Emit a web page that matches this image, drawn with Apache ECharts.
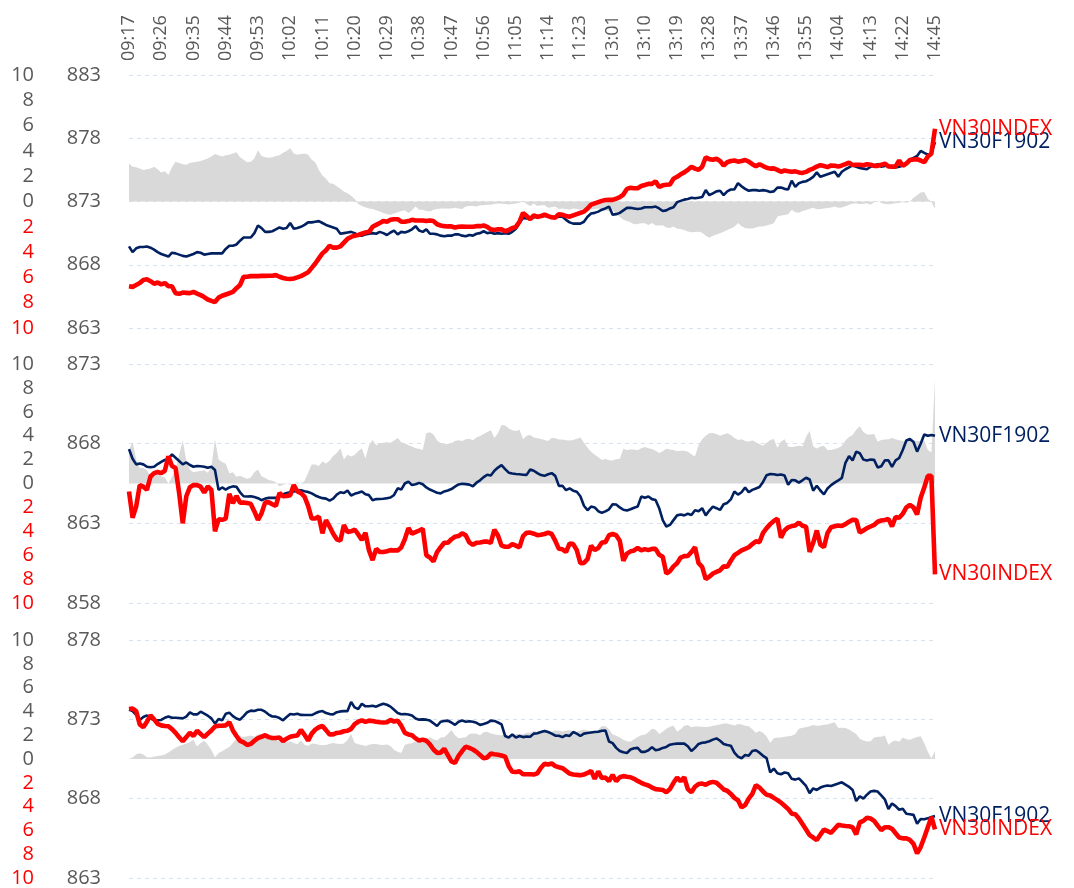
<!DOCTYPE html>
<html><head><meta charset="utf-8">
<script src="https://cdn.jsdelivr.net/npm/echarts@6/dist/echarts.min.js"></script>
<style>html,body{margin:0;padding:0;background:#fff}#c{width:1074px;height:888px}</style>
</head><body><div id="c"></div>
<script>
// trading sessions (one point per minute), last point is the ATC print
const sessions = [['09:17','11:30'],['13:00','14:30'],['14:45','14:45']];
const futName = 'VN30F1902';
const idxName = 'VN30INDEX';

// ---- panel 1 ----
const f1 = [869.45,869.0,869.3,869.4,869.4,869.45,869.35,869.2,869.0,868.85,
868.75,868.65,868.95,868.9,868.8,868.7,868.65,868.75,868.85,869.0,
868.95,868.8,868.85,868.9,868.9,868.9,868.9,869.25,869.5,869.5,
869.6,869.9,870.15,870.15,870.15,870.5,871.1,870.9,870.6,870.6,
870.65,870.8,870.95,870.85,870.9,871.3,870.85,870.9,871.0,871.15,
871.35,871.35,871.4,871.45,871.3,871.15,871.05,870.95,870.85,870.45,
870.5,870.55,870.6,870.5,870.3,870.3,870.4,870.45,870.5,870.45,
870.6,870.5,870.35,870.55,870.7,870.4,870.6,870.55,870.65,870.8,
871.05,870.7,870.6,870.8,870.45,870.45,870.4,870.3,870.25,870.3,
870.3,870.4,870.4,870.3,870.25,870.35,870.3,870.45,870.5,870.65,
870.5,870.55,870.45,870.5,870.45,870.5,870.45,870.6,870.85,871.3,
871.7,871.65,871.7,871.75,871.8,871.8,871.85,871.85,871.7,871.75,
871.8,871.8,871.55,871.35,871.25,871.25,871.25,871.4,871.8,872.05,
872.1,872.2,872.35,872.45,872.6,871.95,872.0,872.1,872.3,872.5,
872.5,872.45,872.4,872.45,872.55,872.55,872.55,872.6,872.45,872.25,
872.3,872.45,872.55,872.95,873.05,873.15,873.2,873.3,873.25,873.3,
873.35,873.9,873.5,873.65,873.8,873.85,873.5,873.8,873.95,873.95,
874.45,874.2,874.0,873.85,873.9,873.9,873.85,873.9,873.85,873.75,
873.8,874.1,874.1,874.0,873.95,874.65,874.15,874.45,874.55,874.6,
874.75,874.95,875.3,874.95,875.05,875.15,875.25,875.35,874.95,875.35,
875.55,875.7,875.85,875.75,875.65,875.6,875.55,875.75,875.85,875.95,
875.75,875.8,875.85,875.7,875.7,875.75,875.85,876.0,876.3,876.45,
876.6,877.0,876.85,876.7,876.8,877.7];
const i1 = [866.3,866.25,866.4,866.55,866.8,866.85,866.7,866.5,866.6,866.45,
866.55,866.3,866.3,865.75,865.7,865.8,865.78,865.76,865.85,865.72,
865.6,865.45,865.25,865.15,865.05,865.4,865.55,865.65,865.75,865.85,
866.15,866.4,867.05,867.05,867.1,867.1,867.1,867.12,867.12,867.13,
867.13,867.18,867.05,866.95,866.9,866.87,866.92,867.0,867.1,867.25,
867.4,867.75,868.1,868.5,868.9,869.15,869.5,869.35,869.35,869.45,
869.75,870.05,870.2,870.3,870.35,870.45,870.55,870.6,871.0,871.15,
871.3,871.45,871.4,871.55,871.6,871.6,871.4,871.4,871.45,871.55,
871.5,871.5,871.5,871.45,871.5,871.45,871.2,871.1,871.05,871.03,
871.03,870.95,871.0,871.03,871.0,871.0,871.0,871.05,871.05,871.1,
871.0,870.8,870.75,870.8,870.8,870.65,870.75,870.9,871.0,871.4,
872.1,871.85,871.6,871.9,871.78,871.85,871.97,871.85,871.75,871.72,
872.0,871.95,871.85,871.8,871.9,872.0,872.1,872.2,872.45,872.75,
872.85,872.95,873.05,873.12,873.13,873.13,873.22,873.35,873.55,874.0,
874.08,874.05,874.05,874.22,874.3,874.39,874.39,874.6,874.15,874.28,
874.32,874.35,874.8,874.95,875.15,875.3,875.5,875.75,875.6,875.5,
875.75,876.5,876.35,876.3,876.38,876.2,875.85,876.1,876.2,876.24,
876.15,876.2,876.28,876.15,875.95,875.78,875.95,875.8,875.67,875.6,
875.62,875.5,875.35,875.45,875.4,875.35,875.38,875.3,875.26,875.34,
875.5,875.6,875.76,875.87,875.8,875.72,875.85,875.82,875.76,875.85,
875.95,876.08,875.88,875.9,875.9,875.87,875.95,875.9,875.82,875.82,
875.9,876.0,875.78,875.76,875.78,876.24,875.82,876.0,876.28,876.32,
876.34,876.24,876.1,876.55,876.8,878.75];
const b1 = [3.0,2.75,2.7,2.6,2.5,2.55,2.6,2.75,2.55,2.3,
2.4,2.1,2.7,3.15,3.05,2.95,2.9,3.05,3.1,3.15,
3.2,3.3,3.4,3.55,3.75,3.65,3.55,3.65,3.7,3.8,
3.9,3.5,3.3,3.1,3.15,3.4,4.05,3.6,3.5,3.45,
3.5,3.6,3.65,3.85,4.0,4.2,3.8,3.7,3.75,3.8,
3.7,3.3,3.1,2.5,2.05,1.8,1.45,1.4,1.2,1.0,
0.8,0.65,0.45,0.2,-0.2,-0.35,-0.45,-0.55,-0.6,-0.7,
-0.8,-0.9,-1.0,-1.05,-0.95,-0.85,-0.75,-0.7,-0.9,-0.7,
-0.4,-0.65,-0.65,-0.75,-0.8,-0.65,-0.6,-0.55,-0.55,-0.55,
-0.55,-0.5,-0.55,-0.6,-0.4,-0.35,-0.35,-0.4,-0.3,-0.3,
-0.25,-0.25,-0.2,-0.15,-0.18,-0.2,-0.24,-0.2,-0.15,-0.12,
0.03,-0.2,-0.35,-0.15,-0.35,-0.3,-0.3,-0.5,-0.45,-0.4,
-0.6,-0.55,-0.6,-0.65,-0.55,-0.6,-0.65,-0.55,-0.6,-0.65,
-0.6,-0.55,-0.62,-0.7,-0.8,-0.68,-1.0,-1.2,-1.45,-1.55,
-1.65,-1.8,-1.78,-1.72,-1.72,-1.85,-1.7,-1.9,-1.9,-1.88,
-2.05,-2.1,-1.97,-2.15,-2.18,-2.25,-2.38,-2.43,-2.42,-2.4,
-2.48,-2.7,-2.87,-2.7,-2.6,-2.5,-2.4,-2.25,-2.13,-2.0,
-1.7,-1.95,-2.1,-2.13,-2.13,-2.05,-1.97,-1.97,-1.9,-1.82,
-1.72,-1.2,-1.1,-1.06,-1.0,-0.66,-0.85,-0.88,-0.76,-0.68,
-0.58,-0.5,-0.62,-0.6,-0.55,-0.52,-0.47,-0.4,-0.5,-0.48,
-0.38,-0.26,-0.18,-0.14,-0.22,-0.18,-0.14,-0.26,-0.05,0.05,
-0.12,-0.2,-0.22,-0.18,-0.14,-0.1,-0.03,-0.1,0.0,0.3,
0.5,0.72,0.75,0.2,-0.02,-0.6];

// ---- panel 2 ----
const f2 = [867.66,867.05,866.7,866.75,866.7,866.55,866.52,866.55,866.72,866.85,
866.98,867.05,867.33,867.12,866.91,866.7,866.82,866.66,866.55,866.6,
866.58,866.55,866.49,866.55,866.35,865.1,865.25,865.12,865.25,865.32,
865.3,864.95,864.7,864.68,864.7,864.65,864.58,864.45,864.55,864.6,
864.6,864.6,864.72,864.83,864.9,864.95,865.0,865.05,865.08,865.02,
864.97,864.88,864.75,864.65,864.58,864.55,864.43,864.55,864.8,864.95,
864.9,865.06,864.75,864.85,864.92,865.0,864.82,864.77,864.45,864.52,
864.53,864.54,864.58,864.62,864.78,865.2,865.12,865.5,865.62,865.4,
865.45,865.54,865.45,865.25,865.12,865.02,864.92,864.88,865.0,865.06,
865.15,865.3,865.44,865.48,865.46,865.43,865.33,865.55,865.7,865.9,
866.05,866.0,866.3,866.5,866.65,866.4,866.18,866.13,866.1,866.08,
866.05,866.04,866.38,866.3,866.15,866.03,865.98,866.08,866.15,865.98,
865.35,865.36,865.08,865.19,865.05,864.98,864.7,864.1,863.82,864.05,
864.0,863.76,863.66,863.75,863.88,864.2,864.18,864.0,863.85,863.8,
863.88,863.98,864.05,864.68,864.6,864.68,864.52,864.47,863.95,863.2,
862.8,862.9,863.2,863.5,863.55,863.5,863.6,863.52,863.82,863.76,
863.95,863.5,863.8,864.05,863.95,863.84,864.2,864.28,864.5,865.0,
864.8,864.95,865.25,864.95,865.1,865.19,865.28,865.6,866.02,866.1,
866.08,866.03,866.07,866.0,865.42,865.72,865.7,865.55,865.7,865.86,
865.75,865.05,865.36,865.06,864.82,865.19,865.4,865.55,865.69,865.85,
866.8,867.22,866.95,867.5,867.4,867.0,866.95,867.0,866.98,866.5,
866.58,866.95,866.95,866.55,866.95,867.1,867.6,868.2,868.29,868.1,
867.5,868.0,868.58,868.5,868.55,868.5];
const i2 = [865.0,863.35,864.05,865.4,865.3,865.1,865.94,866.15,866.22,866.15,
866.3,867.2,866.6,866.47,864.9,863.0,864.7,865.27,865.4,865.4,
865.3,864.93,865.31,865.1,862.5,863.25,863.22,863.3,864.85,864.26,
864.72,864.3,864.3,864.28,864.22,863.75,863.21,863.63,864.3,864.33,
864.2,864.09,864.9,864.7,864.72,864.77,865.4,865.0,864.9,864.68,
864.1,863.3,863.3,863.42,862.37,863.21,862.8,862.35,862.0,861.91,
862.9,862.45,862.5,862.6,862.3,861.95,862.41,861.3,860.69,861.4,
861.2,861.2,861.25,861.32,861.3,861.3,861.49,862.0,862.7,862.35,
862.45,862.55,862.66,861.0,860.86,860.61,861.2,861.5,861.78,861.78,
862.0,862.16,862.2,862.37,862.25,861.8,861.65,861.78,861.8,861.85,
861.85,861.78,862.6,862.24,861.6,861.53,861.53,861.7,861.6,861.49,
862.2,862.41,862.42,862.35,862.26,862.28,862.33,862.42,862.33,861.9,
861.4,861.37,861.2,861.74,861.7,861.32,860.5,860.52,860.75,861.6,
861.32,861.45,861.8,861.82,862.25,862.33,862.25,861.9,860.65,861.1,
861.24,861.3,861.45,861.3,861.38,861.32,861.4,861.4,861.03,860.9,
859.85,860.0,860.3,860.5,860.85,860.94,860.95,861.2,861.5,860.5,
860.27,859.5,859.65,859.85,859.95,860.05,860.3,860.27,860.65,861.0,
861.15,861.3,861.4,861.5,861.7,861.87,861.82,862.4,862.7,862.95,
863.15,863.3,862.1,862.55,862.75,862.83,862.87,863.04,862.85,862.79,
861.2,861.78,862.55,861.66,861.5,862.4,862.75,862.82,862.87,862.83,
862.95,863.1,863.22,863.21,862.42,862.55,862.7,862.8,862.9,863.1,
863.18,863.21,863.28,862.8,863.4,863.35,863.6,864.0,864.15,864.0,
863.55,864.6,865.25,865.98,865.98,859.8];
const b2 = [2.8,3.5,2.0,1.3,1.3,1.1,0.6,0.7,0.8,0.6,
0.5,0.0,0.55,1.2,2.4,3.6,1.9,1.15,0.95,1.0,
1.05,1.1,0.9,1.4,3.7,2.0,1.8,1.65,0.85,0.95,
0.56,0.65,0.5,0.4,0.5,0.95,1.18,0.6,0.45,0.3,
0.22,0.1,-0.25,-0.1,0.0,-0.1,0.05,0.1,0.0,0.2,
0.9,1.6,1.6,1.46,1.85,1.68,1.9,2.3,2.55,2.95,
2.0,2.4,2.25,2.4,2.7,2.95,2.1,3.2,3.64,3.2,
3.35,3.42,3.45,3.4,3.6,3.8,3.45,3.36,3.2,3.1,
2.95,2.9,2.8,4.2,4.28,4.1,3.6,3.38,3.28,3.3,
3.36,3.55,3.62,3.55,3.7,3.75,3.62,3.85,3.98,4.15,
4.3,4.45,3.8,4.2,4.9,4.85,4.6,4.45,4.4,4.5,
3.7,4.0,4.05,3.85,3.78,3.72,3.65,3.55,3.82,3.78,
3.68,3.68,3.62,3.6,3.64,3.75,3.85,3.4,3.0,2.65,
2.4,2.2,1.96,2.05,1.95,1.92,2.05,2.05,2.9,2.8,
2.85,2.85,2.78,2.95,3.05,2.95,2.88,2.75,2.55,2.7,
2.9,2.85,2.8,2.7,2.75,2.75,2.65,2.45,2.25,3.2,
3.7,4.0,4.2,4.22,4.15,4.0,4.1,4.2,4.05,3.8,
3.65,3.7,3.55,3.5,3.62,3.45,3.3,3.15,3.4,3.65,
3.72,3.0,3.5,3.7,3.1,3.05,3.1,3.15,3.1,3.9,
4.4,3.1,2.92,3.1,3.15,2.8,2.8,2.88,2.97,3.15,
3.6,3.9,4.05,4.5,4.8,4.3,4.1,4.1,4.15,3.5,
3.65,3.68,3.7,3.8,3.7,3.62,3.55,3.58,3.64,3.6,
3.55,3.55,3.62,2.8,2.6,8.7];

// ---- panel 3 ----
const f3 = [873.61,873.52,873.28,872.96,873.15,873.25,873.05,872.96,872.94,872.96,
873.1,873.18,873.1,873.1,873.08,873.06,873.17,873.44,873.31,873.31,
873.48,873.36,873.23,873.06,872.73,873.02,872.94,873.35,873.42,873.2,
873.05,872.98,873.2,873.45,873.55,873.52,873.6,873.6,873.48,873.3,
873.18,873.17,873.08,872.94,873.15,873.34,873.3,873.35,873.28,873.27,
873.27,873.27,873.38,873.48,873.52,873.4,873.33,873.31,873.45,873.5,
873.52,873.52,874.1,873.75,873.65,873.98,873.82,873.82,873.86,873.8,
873.9,873.98,873.92,873.8,873.6,873.4,873.32,873.34,873.3,873.24,
873.05,872.98,873.0,872.98,872.92,872.75,872.58,872.85,872.9,872.92,
872.8,872.65,872.85,872.92,872.85,872.88,872.85,872.78,872.65,872.7,
872.78,872.92,872.9,872.8,872.68,871.95,871.85,872.05,871.85,871.95,
871.88,871.92,871.9,872.1,872.12,872.2,872.27,872.2,872.1,871.97,
871.97,871.88,872.0,871.95,872.2,872.1,871.95,872.1,872.14,872.17,
872.2,872.22,872.28,872.3,871.6,871.5,871.2,871.0,870.92,870.88,
871.1,871.18,871.2,870.95,870.95,871.05,871.25,871.05,871.1,871.2,
871.26,871.4,871.45,871.47,871.47,871.47,871.3,871.0,871.2,871.45,
871.52,871.55,871.62,871.72,871.8,871.65,871.45,871.38,871.34,870.9,
870.65,870.55,870.75,870.7,871.0,871.05,870.9,870.7,870.55,869.65,
869.9,869.6,869.54,869.65,869.6,869.25,869.2,869.28,869.05,868.8,
868.35,868.65,868.55,868.7,868.78,868.83,868.8,868.88,868.95,869.03,
868.88,868.75,868.55,867.85,868.15,868.0,868.25,868.45,868.49,868.45,
868.2,867.95,867.35,867.7,867.53,867.3,867.36,867.05,867.02,866.98,
866.42,866.72,866.7,866.76,866.85,866.9];
const i3 = [873.65,873.68,873.52,872.68,872.5,872.85,873.25,873.0,872.72,872.62,
872.58,872.56,872.38,872.15,871.87,871.62,871.88,872.15,871.95,872.28,
872.08,871.88,872.1,872.3,872.55,872.6,872.6,872.62,872.82,872.3,
871.95,871.64,871.55,871.38,871.45,871.65,871.82,871.9,872.0,871.88,
871.82,871.82,871.85,871.62,871.78,871.9,871.95,871.98,872.33,872.02,
871.66,872.1,872.35,872.5,872.58,872.32,872.05,872.05,872.14,872.17,
872.25,872.28,872.4,872.7,872.85,872.94,872.84,872.92,872.9,872.85,
872.82,872.8,872.82,872.96,872.86,872.92,872.6,872.15,872.05,872.0,
871.8,871.66,871.72,871.65,871.42,871.1,870.88,870.9,871.15,870.75,
870.35,870.25,870.7,871.0,871.28,871.2,871.1,870.95,870.75,870.55,
870.6,870.84,870.8,870.77,870.72,870.65,870.05,869.7,869.68,869.72,
869.54,869.54,869.54,869.52,869.6,869.95,870.2,870.15,870.22,870.05,
869.98,869.92,869.75,869.58,869.52,869.5,869.47,869.52,869.62,869.75,
869.25,869.72,869.3,869.33,869.1,869.5,869.1,869.35,869.42,869.38,
869.35,869.25,869.12,869.0,868.9,868.83,868.7,868.6,868.58,868.55,
868.4,868.6,869.0,869.33,869.1,869.35,868.6,868.4,868.75,868.92,
868.95,868.88,869.0,869.06,869.0,868.8,868.58,868.5,868.3,868.05,
867.9,867.45,867.6,868.0,868.3,868.85,868.7,868.45,868.24,868.2,
868.05,867.91,867.75,867.55,867.35,867.05,867.02,866.75,866.4,866.05,
865.7,865.55,865.39,865.73,866.05,865.95,865.85,866.1,866.35,866.31,
866.28,866.26,866.2,865.75,866.5,866.6,866.8,866.75,866.6,866.3,
866.02,866.2,866.2,866.1,865.82,865.55,865.5,865.5,865.4,865.15,
864.55,864.95,865.55,866.2,866.85,866.06];
const b3 = [0.03,0.12,0.4,0.48,0.38,0.15,0.12,0.2,0.25,0.3,
0.38,0.55,0.75,0.95,1.1,1.2,1.3,1.42,1.62,1.05,
1.35,1.55,1.2,0.75,0.15,0.5,0.65,0.85,1.0,1.35,
1.7,1.93,1.85,1.92,1.98,1.88,2.05,2.12,2.05,1.9,
1.75,1.6,1.5,1.45,1.38,1.5,1.35,1.25,1.55,1.2,
1.1,1.3,1.28,1.2,1.15,1.18,1.28,1.35,1.28,1.26,
1.3,1.6,2.1,1.35,1.25,1.18,1.1,1.2,1.26,1.26,
1.2,1.18,1.22,1.1,0.75,0.6,0.5,1.2,1.28,1.32,
1.5,1.58,1.65,1.7,1.8,1.65,1.55,1.8,1.82,2.1,
2.43,2.0,1.75,1.78,1.82,2.1,2.15,2.12,2.0,2.25,
2.3,2.15,2.08,2.02,2.0,2.1,1.95,1.9,2.1,2.1,
2.05,2.2,2.2,2.35,2.3,2.32,2.35,2.25,2.3,2.4,
2.38,2.32,2.38,2.42,2.35,2.28,2.4,2.48,2.4,2.32,
2.38,2.45,2.78,2.75,2.5,2.05,1.95,1.8,1.62,1.5,
1.45,1.65,1.85,2.0,2.04,2.25,2.55,2.45,2.1,2.3,
2.55,2.72,2.8,2.3,2.5,2.8,2.85,2.66,2.74,2.73,
2.71,2.68,2.7,2.8,2.83,2.9,2.98,2.99,2.9,2.82,
2.95,2.9,2.8,2.75,2.5,2.2,2.35,2.2,1.9,1.35,
1.75,1.8,1.8,1.87,1.92,1.95,2.1,2.55,2.62,2.66,
2.75,2.85,2.8,2.82,2.87,2.9,3.0,3.08,2.6,2.62,
2.6,2.48,2.3,2.1,1.7,1.55,1.48,1.5,1.8,1.87,
1.87,1.98,1.2,1.45,1.55,1.45,1.8,1.65,1.62,1.75,
1.85,1.92,1.35,0.6,0.05,0.7];

const priceRanges = [[863,883],[858,873],[863,878]];
const panelFut = [f1,f2,f3];
const panelIdx = [i1,i2,i3];
const panelBasis = [b1,b2,b3];

function buildTimes(){
  const out = [];
  const toMin = s => { const p = s.split(':'); return (+p[0])*60 + (+p[1]); };
  const fmt = m => String(Math.floor(m/60)).padStart(2,'0') + ':' + String(m%60).padStart(2,'0');
  sessions.forEach(([a,b]) => { for (let m = toMin(a); m <= toMin(b); m++) out.push(fmt(m)); });
  return out;
}
const categories = buildTimes();

const FONT = 'Open Sans';
const GRAY = '#595959';
const grids = [
  {left:129, right:139, top:75, height:253},
  {left:129, right:139, top:364, height:239},
  {left:129, right:139, top:640, height:238}
];
const xAxis = [], yAxis = [], series = [];
for (let k = 0; k < 3; k++) {
  xAxis.push({
    type:'category', gridIndex:k, data:categories, boundaryGap:false,
    position: 'top',
    axisLine:{show:false}, axisTick:{show:false}, splitLine:{show:false},
    axisLabel:{show:k===0, rotate:90, interval:8, fontSize:18, color:GRAY, fontFamily:FONT, margin:14}
  });
  yAxis.push({
    type:'value', gridIndex:k, position:'left', min:priceRanges[k][0], max:priceRanges[k][1], interval:5,
    axisLine:{show:false}, axisTick:{show:false},
    axisLabel:{fontSize:20, color:GRAY, fontFamily:FONT, margin:28},
    splitLine:{show:true, lineStyle:{color:'#d6e0ef', type:[4,4], width:1}}
  });
  yAxis.push({
    type:'value', gridIndex:k, position:'left', min:-10, max:10, interval:2,
    axisLine:{show:false}, axisTick:{show:false}, splitLine:{show:false},
    axisLabel:{margin:95, fontFamily:FONT,
      formatter: v => v < 0 ? '{r|' + (-v) + '}' : '{g|' + v + '}',
      rich:{ r:{color:'#ff0000', fontSize:20, fontFamily:FONT}, g:{color:GRAY, fontSize:20, fontFamily:FONT} }
    }
  });
  series.push({
    type:'line', name:'basis'+k, xAxisIndex:k, yAxisIndex:2*k+1, data:panelBasis[k],
    symbol:'none', lineStyle:{width:0}, areaStyle:{color:'#d9d9d9', opacity:1, origin:0},
    itemStyle:{color:'#d9d9d9'}, z:1
  });
  series.push({
    type:'line', name:futName, xAxisIndex:k, yAxisIndex:2*k, data:panelFut[k],
    symbol:'none', lineStyle:{width:2.6, color:'#002060'}, itemStyle:{color:'#002060'}, z:3,
    endLabel:{show:true, formatter:'{a}', color:'#002060', fontSize:21, fontFamily:FONT, distance:4}
  });
  series.push({
    type:'line', name:idxName, xAxisIndex:k, yAxisIndex:2*k, data:panelIdx[k],
    symbol:'none', lineStyle:{width:4.6, color:'#ff0000'}, itemStyle:{color:'#ff0000'}, z:4,
    endLabel:{show:true, formatter:'{a}', color:'#ff0000', fontSize:21, fontFamily:FONT, distance:4}
  });
}
const chart = echarts.init(document.getElementById('c'), null, {renderer:'canvas'});
chart.setOption({
  animation:false, backgroundColor:'#ffffff',
  grid:grids, xAxis:xAxis, yAxis:yAxis, series:series
});
</script></body></html>
